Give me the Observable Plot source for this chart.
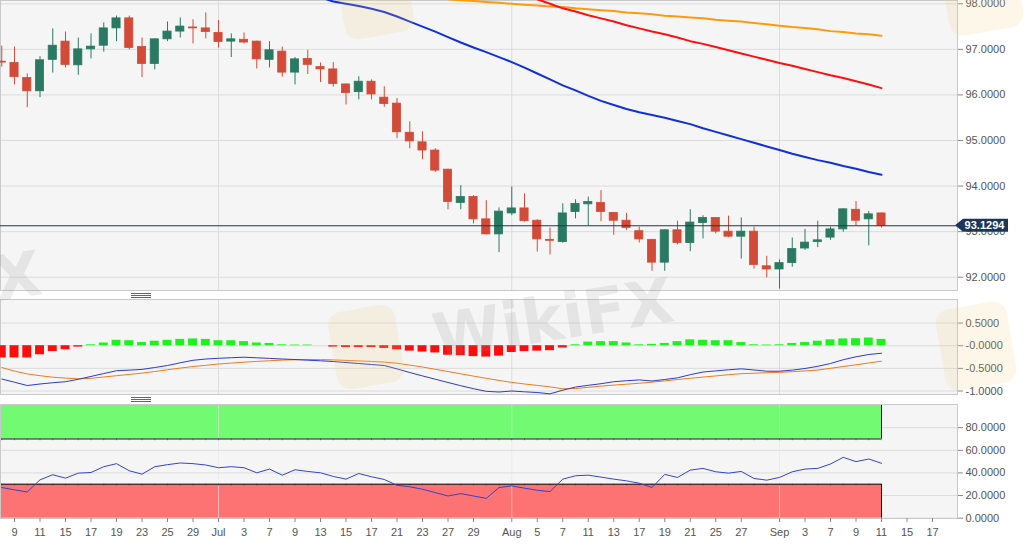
<!DOCTYPE html>
<html>
<head>
<meta charset="utf-8">
<script src="https://cdn.jsdelivr.net/npm/d3@7"></script>
<script src="https://cdn.jsdelivr.net/npm/@observablehq/plot@0.6"></script>
<style>
  body { margin: 0; background: #fff; font-family: "Liberation Sans", Arial, sans-serif; }
  #chart { position: relative; width: 1025px; height: 547px; overflow: hidden; }
  .panel { position: absolute; left: 0; }
  .handle { position: absolute; left: 131px; width: 20px; height: 3px;
    border-top: 1px solid #666; border-bottom: 1px solid #666; }
  .handle::after { content: ""; position: absolute; left: 0; right: 0; top: 1px; border-top: 1px solid #666; }
  .wm { position: absolute; font-weight: bold; color: rgba(140, 140, 140, 0.16); white-space: nowrap;
    pointer-events: none; font-family: "DejaVu Sans", sans-serif; }
  .logo { position: absolute; border-radius: 14px; background: rgba(240, 205, 120, 0.16); pointer-events: none; }
</style>
</head>
<body>
<div id="chart">
  <div id="price" class="panel" style="top:0"></div>
  <div class="handle" style="top:293px"></div>
  <div id="macd" class="panel" style="top:299px"></div>
  <div class="handle" style="top:397px"></div>
  <div id="rsi" class="panel" style="top:404px"></div>
  <div class="logo" style="left:332px;top:308px;width:68px;height:78px;transform:rotate(-10deg)"></div>
  <div class="logo" style="left:940px;top:305px;width:72px;height:82px;transform:rotate(-10deg)"></div>
  <div class="logo" style="left:945px;top:-40px;width:75px;height:72px;transform:rotate(-10deg)"></div>
  <div class="logo" style="left:340px;top:-40px;width:70px;height:76px;transform:rotate(-10deg)"></div>
  <div class="wm" style="left:432px;top:282px;font-size:62px;transform:rotate(-9deg)">WikiFX</div>
  <div class="wm" style="left:-200px;top:255px;font-size:62px;transform:rotate(-9deg)">WikiFX</div>
</div>
<script>
// trading-day index 0 = 8 Jun (2020), one candle per weekday up to 11 Sep
const open = [
  96.73, 96.70, 96.37, 96.08, 96.77, 97.17, 96.65, 97.00, 97.08, 97.46,
  97.68, 97.05, 96.68, 97.22, 97.39, 97.48, 97.46, 97.36, 97.17, 97.21,
  97.17, 96.77, 96.95, 96.49, 96.79, 96.61, 96.56, 96.23, 96.06, 96.29,
  95.94, 95.81, 95.17, 94.96, 94.78, 94.36, 93.63, 93.76, 93.27, 92.94,
  93.40, 93.51, 93.24, 92.82, 92.77, 93.43, 93.60, 93.63, 93.41, 93.24,
  93.01, 92.82, 92.32, 93.03, 92.75, 93.19, 93.30, 93.00, 92.89, 93.00,
  92.24, 92.17, 92.31, 92.63, 92.77, 92.87, 93.05, 93.48, 93.27, 93.40,
];
const high = [
  97.07, 97.05, 96.46, 96.84, 97.45, 97.38, 97.25, 97.34, 97.58, 97.73,
  97.73, 97.25, 97.23, 97.60, 97.69, 97.65, 97.80, 97.63, 97.34, 97.36,
  97.18, 97.17, 97.05, 96.82, 96.98, 96.70, 96.71, 96.24, 96.40, 96.33,
  96.18, 95.92, 95.41, 95.19, 94.82, 94.37, 94.01, 93.79, 93.68, 93.52,
  93.98, 93.83, 93.26, 93.08, 93.61, 93.70, 93.76, 93.90, 93.42, 93.40,
  93.10, 92.83, 93.04, 93.23, 93.48, 93.35, 93.31, 93.34, 93.30, 93.10,
  92.46, 92.38, 92.86, 93.05, 93.23, 93.10, 93.50, 93.66, 93.44, 93.41,
];
const low = [
  96.61, 96.22, 95.72, 95.94, 96.48, 96.59, 96.43, 96.79, 96.94, 97.17,
  96.99, 96.38, 96.55, 97.17, 97.25, 97.12, 97.23, 97.03, 96.82, 97.12,
  96.57, 96.59, 96.39, 96.22, 96.45, 96.27, 96.17, 95.78, 95.89, 95.89,
  95.73, 95.04, 94.82, 94.58, 94.30, 93.48, 93.48, 93.17, 92.93, 92.54,
  93.35, 93.21, 92.55, 92.49, 92.75, 93.28, 93.13, 93.22, 92.92, 93.03,
  92.75, 92.13, 92.13, 92.71, 92.56, 92.84, 92.95, 92.87, 92.40, 92.18,
  91.99, 91.74, 92.22, 92.59, 92.65, 92.81, 92.99, 93.13, 92.69, 93.08,
];
const close = [
  96.71, 96.39, 96.08, 96.76, 97.08, 96.66, 97.00, 97.06, 97.46, 97.68,
  97.03, 96.68, 97.22, 97.39, 97.50, 97.46, 97.38, 97.16, 97.22, 97.15,
  96.78, 96.98, 96.49, 96.78, 96.66, 96.56, 96.24, 96.04, 96.29, 96.01,
  95.80, 95.18, 94.98, 94.78, 94.34, 93.65, 93.76, 93.27, 92.94, 93.44,
  93.51, 93.23, 92.83, 92.80, 93.40, 93.61, 93.65, 93.43, 93.24, 93.08,
  92.83, 92.32, 93.03, 92.75, 93.20, 93.30, 93.00, 92.89, 93.00, 92.27,
  92.17, 92.31, 92.62, 92.76, 92.81, 93.05, 93.49, 93.24, 93.38, 93.1294,
];

// moving averages, each starting at the given trading-day index
const maFastStart = 25;
const maFast = [
  98.14, 98.05, 98.00, 97.95, 97.89, 97.82, 97.72, 97.61, 97.50, 97.39,
  97.27, 97.15, 97.04, 96.94, 96.83, 96.72, 96.60, 96.47, 96.34, 96.21,
  96.10, 95.98, 95.87, 95.78, 95.69, 95.62, 95.56, 95.50, 95.43, 95.36,
  95.27, 95.19, 95.11, 95.03, 94.95, 94.87, 94.79, 94.71, 94.64, 94.57,
  94.51, 94.44, 94.38, 94.31, 94.25,
];
const maMidStart = 41;
const maMid = [
  98.22, 98.10, 98.00, 97.90, 97.83, 97.75, 97.68, 97.61, 97.53, 97.46,
  97.39, 97.33, 97.26, 97.18, 97.12, 97.05, 96.98, 96.91, 96.84, 96.77,
  96.70, 96.64, 96.57, 96.50, 96.43, 96.37, 96.30, 96.23, 96.15,
];
const maSlowStart = 35;
const maSlow = [
  98.10, 98.08, 98.06, 98.04, 98.02, 98.00, 97.98, 97.96, 97.94, 97.93,
  97.90, 97.88, 97.86, 97.84, 97.81, 97.79, 97.77, 97.74, 97.72, 97.70,
  97.68, 97.65, 97.63, 97.61, 97.58, 97.55, 97.52, 97.49, 97.47, 97.44,
  97.40, 97.38, 97.35, 97.33, 97.30,
];

const macdHist = [
  -0.27, -0.27, -0.27, -0.20, -0.13, -0.09, -0.03, 0.02, 0.06, 0.12,
  0.11, 0.07, 0.10, 0.12, 0.14, 0.15, 0.14, 0.11, 0.11, 0.09,
  0.06, 0.05, 0.02, 0.015, 0.015, 0, -0.03, -0.04, -0.04, -0.04,
  -0.06, -0.09, -0.12, -0.14, -0.16, -0.21, -0.22, -0.24, -0.25, -0.23,
  -0.15, -0.13, -0.12, -0.11, -0.05, 0.02, 0.08, 0.09, 0.09, 0.06,
  0.02, 0.03, 0.05, 0.09, 0.13, 0.12, 0.11, 0.11, 0.07, 0.02,
  0.015, 0.02, 0.05, 0.07, 0.10, 0.13, 0.15, 0.155, 0.17, 0.14,
];
const macdLine = [
  -0.735, -0.806, -0.879, -0.845, -0.817, -0.795, -0.742, -0.678, -0.614, -0.552,
  -0.539, -0.523, -0.481, -0.437, -0.377, -0.322, -0.294, -0.278, -0.265, -0.254,
  -0.267, -0.280, -0.294, -0.305, -0.320, -0.333, -0.349, -0.371, -0.393, -0.415,
  -0.437, -0.512, -0.592, -0.667, -0.740, -0.812, -0.883, -0.949, -1.007, -1.022,
  -1.000, -1.018, -1.033, -1.062, -0.982, -0.912, -0.874, -0.839, -0.795, -0.773,
  -0.755, -0.779, -0.746, -0.709, -0.640, -0.581, -0.556, -0.532, -0.510, -0.536,
  -0.563, -0.563, -0.539, -0.503, -0.455, -0.393, -0.309, -0.245, -0.194, -0.166,
];
const macdSignal = [
  -0.481, -0.561, -0.623, -0.662, -0.695, -0.715, -0.731, -0.720, -0.691, -0.662,
  -0.634, -0.605, -0.570, -0.532, -0.494, -0.459, -0.433, -0.404, -0.384, -0.364,
  -0.347, -0.331, -0.318, -0.311, -0.305, -0.307, -0.313, -0.324, -0.336, -0.347,
  -0.362, -0.386, -0.428, -0.470, -0.521, -0.570, -0.620, -0.671, -0.720, -0.766,
  -0.810, -0.845, -0.876, -0.909, -0.951, -0.945, -0.918, -0.892, -0.870, -0.850,
  -0.828, -0.804, -0.777, -0.746, -0.720, -0.693, -0.667, -0.640, -0.618, -0.607,
  -0.596, -0.587, -0.574, -0.556, -0.539, -0.499, -0.459, -0.422, -0.382, -0.342,
];

const rsi = [
  27.1, 25.0, 23.2, 33.9, 38.4, 35.4, 39.8, 40.4, 45.5, 48.2,
  41.9, 38.9, 45.5, 47.3, 48.8, 48.2, 47.0, 44.6, 45.5, 44.6,
  40.1, 43.4, 38.0, 42.8, 41.3, 40.1, 36.9, 34.5, 39.5, 36.6,
  34.2, 29.1, 27.7, 25.6, 22.6, 19.6, 21.7, 19.6, 17.5, 27.1,
  28.5, 26.5, 24.7, 23.5, 34.5, 37.5, 38.0, 36.3, 34.5, 33.0,
  30.9, 27.1, 38.7, 36.0, 42.5, 44.0, 41.0, 39.8, 41.3, 35.1,
  33.6, 36.0, 41.0, 43.4, 44.0, 47.9, 53.8, 50.0, 52.3, 48.5,
];
const rsiUpper = 70;
const rsiLower = 30;

const tickDays = [1, 3, 5, 7, 9, 11, 13, 15, 17, 19, 21, 23, 25, 27, 29, 31, 33, 35, 37,
  40, 42, 44, 46, 48, 50, 52, 54, 56, 58, 61, 63, 65, 67, 69, 71, 73];
const tickLabels = ["9", "11", "15", "17", "19", "23", "25", "29", "Jul", "3", "7", "9", "13", "15", "17", "21", "23", "27", "29",
  "Aug", "5", "7", "11", "13", "17", "19", "21", "25", "27", "Sep", "3", "7", "9", "11", "15", "17"];

const priceTicks = [92, 93, 94, 95, 96, 97, 98];
const macdTicks = [-1, -0.5, 0, 0.5];
const rsiTicks = [0, 20, 40, 60, 80];

const colors = {
  up: "#2a7a62",
  down: "#d24b39",
  maFast: "#1030dc",
  maMid: "#ff1010",
  maSlow: "#ff9a0a",
  last: "#1d3658",
  histUp: "#1cf21c",
  histDown: "#ff0d0d",
  macd: "#2a3ccc",
  signal: "#f07b1e",
  rsi: "#3444cc",
  bandHigh: "#72fb72",
  bandLow: "#fd7272",
  grid: "#dcdcdc",
  panel: "#f5f5f5",
  border: "#c9c9c9",
};

const xDomain = [-0.1, 74.96];
const lastIndex = close.length - 1;
const lastClose = close[lastIndex];
const monthDays = tickDays.filter((d, i) => isNaN(+tickLabels[i]));
const labelByDay = new Map(tickDays.map((d, i) => [d, tickLabels[i]]));

const candles = open.map((o, i) => ({ i, open: o, high: high[i], low: low[i], close: close[i] }));
const series = (values, start = 0) => values.map((v, k) => ({ i: start + k, v }));
const candleColor = (d) => (d.close >= d.open ? colors.up : colors.down);

const base = {
  width: 1025,
  marginLeft: 0,
  marginRight: 68,
  marginTop: 0,
  x: { domain: xDomain, axis: null },
  color: { type: "identity" },
  style: { fontFamily: "Liberation Sans, Arial, sans-serif", fontSize: "11px", color: "#555", background: "transparent", overflow: "visible" },
};

function rightAxis(ticks, fmt) {
  return Plot.axisY({ anchor: "right", ticks, tickFormat: fmt, tickSize: 5, tickPadding: 3, stroke: "#888", fill: "#555", label: null });
}

// label for the last close on the right axis
function priceTag(index, scales, values, dims) {
  const yy = scales.y(lastClose);
  const x0 = dims.width - dims.marginRight - 2;
  const g = d3.create("svg:g");
  g.append("path")
    .attr("d", `M${x0},${yy}l8,-6.5h45v13h-45z`)
    .attr("fill", colors.last);
  g.append("text")
    .attr("x", x0 + 29.5)
    .attr("y", yy)
    .attr("dy", "0.35em")
    .attr("text-anchor", "middle")
    .attr("fill", "#fff")
    .attr("font-weight", "bold")
    .attr("font-size", 11)
    .text(lastClose.toFixed(4));
  return g.node();
}

const pricePlot = Plot.plot({
  ...base,
  height: 291,
  marginBottom: 1,
  y: { domain: [91.709, 98.072], axis: null },
  marks: [
    Plot.frame({ fill: colors.panel, stroke: "none" }),
    Plot.ruleY(priceTicks, { stroke: colors.grid }),
    Plot.ruleX(monthDays, { stroke: colors.grid }),
    Plot.frame({ stroke: colors.border }),
    rightAxis(priceTicks, (d) => d.toFixed(4)),
    Plot.line(series(maSlow, maSlowStart), { x: "i", y: "v", stroke: colors.maSlow, strokeWidth: 2, clip: true }),
    Plot.line(series(maMid, maMidStart), { x: "i", y: "v", stroke: colors.maMid, strokeWidth: 2, clip: true }),
    Plot.line(series(maFast, maFastStart), { x: "i", y: "v", stroke: colors.maFast, strokeWidth: 2, clip: true }),
    Plot.ruleX(candles, { x: "i", y1: "low", y2: "high", stroke: candleColor }),
    Plot.rect(candles, {
      x1: (d) => d.i - 0.32,
      x2: (d) => d.i + 0.32,
      y1: "open",
      y2: "close",
      fill: candleColor,
      stroke: candleColor,
      strokeWidth: 0.8,
    }),
    Plot.ruleY([lastClose], { stroke: colors.last }),
    priceTag,
  ],
});

const macdPlot = Plot.plot({
  ...base,
  height: 95,
  marginBottom: 0,
  y: { domain: [-1.077, 1.02], axis: null },
  marks: [
    Plot.frame({ fill: colors.panel, stroke: "none" }),
    Plot.ruleY(macdTicks, { stroke: colors.grid }),
    Plot.ruleX(monthDays, { stroke: colors.grid }),
    Plot.frame({ stroke: colors.border }),
    rightAxis(macdTicks, (d) => (d === 0 ? "-0.0000" : d.toFixed(4))),
    Plot.rect(series(macdHist), {
      x1: (d) => d.i - 0.35,
      x2: (d) => d.i + 0.35,
      y1: 0,
      y2: "v",
      fill: (d) => (d.v >= 0 ? colors.histUp : colors.histDown),
      clip: true,
    }),
    Plot.line(series(macdSignal), { x: "i", y: "v", stroke: colors.signal, strokeWidth: 1 }),
    Plot.line(series(macdLine), { x: "i", y: "v", stroke: colors.macd, strokeWidth: 1 }),
  ],
});

const rsiPlot = Plot.plot({
  ...base,
  height: 143,
  marginBottom: 29,
  y: { domain: [-0.3, 100.5], axis: null },
  marks: [
    Plot.frame({ fill: colors.panel, stroke: "none" }),
    Plot.ruleY(rsiTicks, { stroke: colors.grid }),
    Plot.rect([rsiUpper], { x1: xDomain[0], x2: lastIndex, y1: rsiUpper, y2: 100, fill: colors.bandHigh }),
    Plot.rect([rsiLower], { x1: xDomain[0], x2: lastIndex, y1: 0, y2: rsiLower, fill: colors.bandLow }),
    Plot.ruleX(monthDays, { stroke: "#e6e6e6", strokeOpacity: 0.6 }),
    Plot.ruleX(d3.range(0, lastIndex + 1), { x: (d) => d, y1: rsiUpper, y2: rsiUpper - 1.6, stroke: "#555", strokeOpacity: 0.5 }),
    Plot.ruleX(d3.range(0, lastIndex + 1), { x: (d) => d, y1: rsiLower, y2: rsiLower - 1.6, stroke: "#555", strokeOpacity: 0.5 }),
    Plot.ruleY([rsiUpper, rsiLower], { x1: xDomain[0], x2: lastIndex, stroke: "#111" }),
    Plot.ruleX([lastIndex], { y1: rsiUpper, y2: 100, stroke: "#111" }),
    Plot.ruleX([lastIndex], { y1: 0, y2: rsiLower, stroke: "#111" }),
    Plot.frame({ stroke: colors.border }),
    rightAxis(rsiTicks, (d) => d.toFixed(4)),
    Plot.axisX({
      ticks: tickDays,
      tickFormat: (d) => labelByDay.get(d),
      tickSize: 4,
      tickPadding: 5.5,
      stroke: "#888",
      fill: "#555",
      label: null,
    }),
    Plot.line(series(rsi), { x: "i", y: "v", stroke: colors.rsi, strokeWidth: 1 }),
  ],
});

document.getElementById("price").appendChild(pricePlot);
document.getElementById("macd").appendChild(macdPlot);
document.getElementById("rsi").appendChild(rsiPlot);
</script>
</body>
</html>
